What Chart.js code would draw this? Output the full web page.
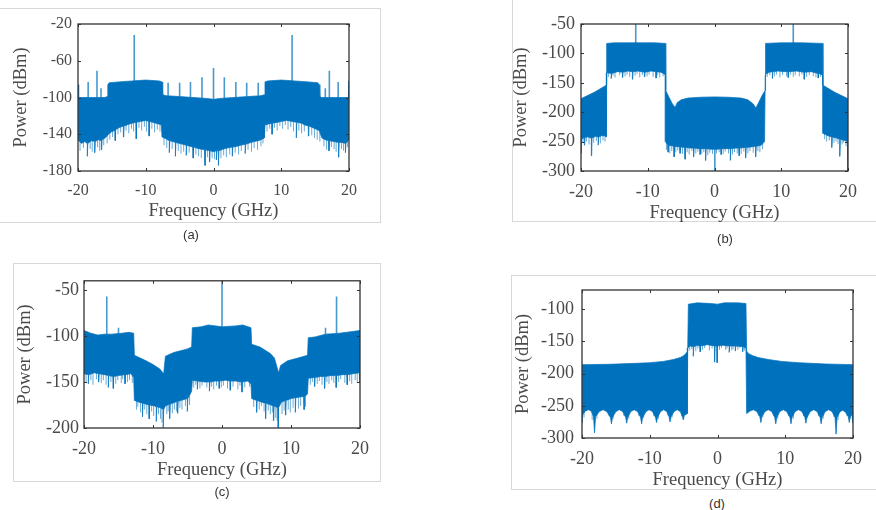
<!DOCTYPE html>
<html>
<head>
<meta charset="utf-8">
<script src="https://cdn.jsdelivr.net/npm/chart.js@4.4.1/dist/chart.umd.min.js"></script>
<style>
  body { margin: 0; width: 876px; height: 510px; position: relative; overflow: hidden; background: #fff; font-family: 'Liberation Sans', Arial, sans-serif; }
  .frame { position: absolute; box-sizing: border-box; border: 0 solid #d8d8d8; }
  canvas { position: absolute; }
  .cap { position: absolute; font-size: 13px; color: #333; transform: translate(-50%, -50%); }
</style>
</head>
<body>
<div class="frame" style="left:0;top:8px;width:381px;height:215px;border-top-width:1px;border-right-width:1px;border-bottom-width:1px"></div>
<div class="frame" style="left:512px;top:-1px;width:370px;height:223px;border-left-width:1px;border-bottom-width:1px"></div>
<div class="frame" style="left:13px;top:263px;width:368px;height:219px;border-width:1px"></div>
<div class="frame" style="left:511px;top:275px;width:370px;height:215px;border-left-width:1px;border-top-width:1px;border-bottom-width:1px"></div>

<canvas id="chartA" width="380" height="228" style="left:0;top:0"></canvas>
<canvas id="chartB" width="376" height="230" style="left:500px;top:0"></canvas>
<canvas id="chartC" width="380" height="220" style="left:0;top:265px"></canvas>
<canvas id="chartD" width="376" height="225" style="left:500px;top:270px"></canvas>

<div class="cap" style="left:191px;top:234px">(a)</div>
<div class="cap" style="left:725px;top:238px">(b)</div>
<div class="cap" style="left:222px;top:491px">(c)</div>
<div class="cap" style="left:717px;top:503px">(d)</div>

<script>
// shared x ticks (GHz)
const freqTicks = [-20, -10, 0, 10, 20];

// (a) envelope of the spectrum: [GHz, dBm]
const aTop = [[-20,-86],[-19.9,-100],[-18,-100],[-16,-100],[-15.7,-99],[-15.6,-86],[-15.4,-84],[-14,-83],[-12,-82],[-10,-81],[-8,-82],[-7.6,-83],[-7.5,-97],[-7,-98],[-5,-99],[-3,-100],[-1,-101],[0,-102],[1,-101],[3,-100],[5,-99],[7,-98],[7.5,-97],[7.6,-83],[8,-82],[10,-81],[12,-82],[14,-83],[15.4,-84],[15.6,-86],[15.7,-99],[16,-100],[18,-100],[19.9,-100],[20,-82]];
const aBottom = [[-20,-146],[-19.5,-150],[-19,-148],[-18.65,-150],[-18.6,-164],[-18.55,-150],[-18,-147],[-17.55,-148],[-17.5,-160],[-17.45,-148],[-17,-146],[-16.55,-147],[-16.5,-157],[-16.45,-146],[-16,-144],[-15.5,-140],[-15,-137],[-14.55,-136],[-14.5,-147],[-14.45,-135],[-14,-133],[-13.3,-131],[-13.25,-143],[-13.2,-131],[-12.5,-129],[-12,-128],[-11.45,-127],[-11.4,-145],[-11.35,-127],[-10.8,-126],[-10,-125],[-9.55,-126],[-9.5,-142],[-9.45,-126],[-9,-127],[-8.5,-128],[-8,-129],[-7.7,-130],[-7.6,-143],[-7,-145],[-6.55,-147],[-6.5,-160],[-6.45,-147],[-6,-148],[-5.65,-149],[-5.6,-164],[-5.55,-149],[-5,-150],[-4.5,-151],[-4.05,-152],[-4,-163],[-3.95,-152],[-3.5,-153],[-3.05,-154],[-3,-166],[-2.95,-154],[-2.5,-155],[-2,-156],[-1.3,-157],[-1.25,-174],[-1.2,-157],[-0.6,-158],[-0.55,-170],[-0.5,-158],[0,-159],[0.4,-158],[0.45,-168],[0.5,-158],[0.7,-158],[0.75,-174],[0.8,-158],[1.5,-156],[2,-155],[2.75,-154],[2.8,-164],[2.85,-154],[3.5,-153],[4,-152],[4.65,-151],[4.7,-161],[4.75,-151],[5.5,-149],[6,-148],[6.6,-147],[7,-146],[7.5,-144],[7.6,-130],[8,-129],[8.6,-128],[8.65,-140],[8.7,-128],[9.5,-127],[10,-126],[10.8,-125],[11.6,-126],[12.2,-127],[12.25,-144],[12.3,-127],[13,-128],[13.5,-130],[14,-131],[14.05,-142],[14.1,-131],[15,-134],[15.6,-136],[16,-144],[16.5,-146],[17,-147],[17.05,-158],[17.1,-147],[17.8,-148],[18.45,-149],[18.5,-165],[18.55,-149],[19,-149],[19.45,-150],[19.5,-160],[19.55,-150],[20,-146]];
// lowest points of the ragged lower edge: [GHz, dBm]
const aDips = [[-19.7,-158],[-19.2,-155],[-18.2,-156],[-17.9,-159],[-17.1,-154],[-16.8,-158],[-16.2,-152],[-15.7,-150],[-15.3,-146],[-14.9,-143],[-14.1,-140],[-13.7,-138],[-12.9,-136],[-12.5,-139],[-12.1,-134],[-11.8,-137],[-11,-133],[-10.6,-136],[-10.2,-132],[-9.9,-137],[-9.1,-134],[-8.7,-138],[-8.3,-135],[-7.9,-137],[-7.3,-152],[-6.9,-155],[-6.1,-156],[-5.2,-158],[-4.8,-161],[-4.4,-159],[-3.6,-160],[-2.6,-162],[-2.2,-164],[-1.8,-166],[-0.9,-165],[-0.2,-166],[0.15,-167],[1.1,-166],[1.5,-163],[1.9,-165],[2.4,-162],[3.2,-160],[3.7,-162],[4.1,-158],[5.1,-157],[5.6,-159],[6,-155],[6.5,-157],[7,-153],[7.3,-150],[7.9,-137],[8.3,-134],[9,-133],[9.4,-136],[9.8,-131],[10.2,-134],[10.6,-130],[11,-135],[11.4,-132],[11.8,-137],[12.6,-136],[13,-139],[13.4,-137],[14.5,-141],[14.9,-144],[15.3,-146],[15.7,-148],[16.3,-153],[16.7,-157],[17.4,-154],[17.8,-156],[18.1,-159],[18.9,-156],[19.2,-158],[19.8,-154]];
// spectral lines: [GHz, from dBm, to dBm]
const aSpikes = [[-18.5,-100,-83],[-17.2,-100,-71],[-16.6,-100,-90],[-11.7,-82,-32],[-6.7,-98,-84],[-5,-99,-84],[-3.4,-100,-83],[-1.7,-101,-78],[0,-102,-68],[1.6,-101,-78],[3.3,-100,-83],[4.9,-99,-84],[6.6,-98,-84],[11.6,-82,-32],[16.5,-100,-90],[17.1,-100,-71],[18.4,-100,-83]];
const aPowerTicks = [-180, -140, -100, -60, -20];

// (b)
const bTop = [[-20,-177],[-18,-166],[-16.2,-154],[-16.15,-83],[-15,-82],[-12,-82],[-9,-82],[-7.35,-83],[-7.3,-163],[-6.8,-175],[-6.3,-186],[-5.9,-192],[-5.6,-184],[-5,-179],[-4,-176],[-2,-174.5],[0,-174],[2,-174.5],[4,-176],[5,-179],[5.8,-186],[6.2,-193],[6.6,-184],[7.2,-170],[7.6,-163],[7.65,-83],[10,-82],[13,-82],[16.2,-83],[16.25,-154],[18,-166],[20,-177]];
const bBottom = [[-20,-270],[-19.9,-246],[-19.5,-243],[-19.45,-256],[-19.4,-243],[-19,-242],[-18.45,-244],[-18.4,-274],[-18.35,-244],[-17.8,-241],[-17.45,-242],[-17.4,-256],[-17.35,-242],[-16.9,-240],[-16.5,-240],[-16.2,-242],[-16.15,-133],[-15.5,-134],[-15.45,-143],[-15.4,-134],[-14.5,-131],[-13.8,-132],[-13.75,-141],[-13.7,-132],[-13,-130],[-12.3,-131],[-12.25,-144],[-12.2,-131],[-11.5,-130],[-10.5,-132],[-10.45,-140],[-10.4,-132],[-9.5,-130],[-8.8,-131],[-8.75,-142],[-8.7,-131],[-8,-132],[-7.4,-136],[-7.35,-250],[-7,-256],[-6.95,-268],[-6.9,-256],[-6.1,-258],[-6.05,-276],[-6,-258],[-5.2,-259],[-5.15,-270],[-5.1,-259],[-4.45,-260],[-4.4,-280],[-4.35,-260],[-3.6,-261],[-3.15,-261],[-3.1,-276],[-3.05,-261],[-2.2,-262],[-2.15,-272],[-2.1,-262],[-1.35,-262],[-1.3,-282],[-1.25,-262],[-0.5,-263],[0.5,-263],[0.95,-262],[1,-272],[1.05,-262],[1.8,-262],[2.35,-262],[2.4,-282],[2.45,-262],[3.2,-261],[3.65,-261],[3.7,-274],[3.75,-261],[4.65,-260],[4.7,-278],[4.75,-260],[5.5,-259],[6.15,-258],[6.2,-276],[6.25,-258],[7,-256],[7.5,-250],[7.6,-136],[8.2,-132],[8.65,-131],[8.7,-143],[8.75,-131],[9.5,-130],[10.5,-131],[11,-131],[11.05,-141],[11.1,-131],[12.3,-130],[13.4,-132],[13.45,-144],[13.5,-132],[14.5,-131],[15.5,-134],[15.55,-142],[15.6,-134],[16.2,-137],[16.25,-236],[17,-240],[17.55,-242],[17.6,-260],[17.65,-242],[18.3,-244],[18.75,-246],[18.8,-275],[18.85,-246],[19.5,-248],[19.9,-250],[20,-300]];
const bDips = [[-19.7,-252],[-19.2,-250],[-18.8,-255],[-18.1,-252],[-17.7,-249],[-17.1,-253],[-16.7,-248],[-16.4,-250],[-15.9,-140],[-15.2,-138],[-14.9,-141],[-14.2,-137],[-13.4,-139],[-13.1,-136],[-12.7,-140],[-11.9,-138],[-11.6,-135],[-11.2,-141],[-10.8,-137],[-10.1,-139],[-9.8,-136],[-9.2,-140],[-8.5,-137],[-8.2,-141],[-7.7,-139],[-7.2,-264],[-6.7,-270],[-6.4,-266],[-5.8,-268],[-5.5,-265],[-4.8,-271],[-4.1,-268],[-3.8,-272],[-3.4,-266],[-2.8,-270],[-2.5,-267],[-1.9,-271],[-1.6,-268],[-1,-273],[-0.7,-269],[-0.3,-271],[0.3,-270],[0.7,-268],[1.3,-271],[1.6,-267],[2.1,-270],[2.7,-272],[3,-268],[3.4,-270],[4,-271],[4.4,-267],[5,-270],[5.3,-266],[5.8,-269],[6.5,-266],[6.8,-268],[7.2,-263],[7.9,-140],[8.3,-137],[9,-139],[9.3,-136],[9.8,-141],[10.2,-137],[10.8,-139],[11.4,-136],[11.8,-140],[12.1,-137],[12.7,-139],[13.1,-136],[13.8,-140],[14.2,-137],[14.8,-139],[15.2,-141],[15.9,-140],[16.5,-246],[16.8,-250],[17.2,-248],[17.9,-252],[18.2,-250],[18.5,-254],[19.1,-255],[19.3,-252],[19.7,-258]];
const bSpikes = [[-11.8,-83,-50],[11.8,-83,-50],[0.05,-262,-300]];
const bPowerTicks = [-300, -250, -200, -150, -100, -50];

// (c)
const cTop = [[-20,-94],[-19,-97],[-18,-99],[-17,-98],[-16,-98],[-14.5,-97],[-13.5,-96],[-12.8,-97],[-12.7,-121],[-11,-127],[-10,-131],[-9,-136],[-8.45,-141],[-8.2,-122],[-7,-118],[-6,-116],[-5,-114],[-4.4,-112],[-4.3,-91],[-3,-90],[-2,-88],[0,-90],[2,-89],[3,-88],[4.2,-91],[4.3,-109],[5.5,-112],[7,-119],[7.6,-124],[8.2,-140],[8.5,-132],[9.5,-127],[11,-124],[12.4,-121],[12.5,-102],[13.5,-101],[15,-98],[17,-97],[19,-95],[20,-94]];
const cBottom = [[-20,-141],[-19.4,-142],[-19.35,-152],[-19.3,-142],[-18.5,-140],[-17.9,-141],[-17.85,-150],[-17.8,-141],[-17,-142],[-16.5,-143],[-16.45,-156],[-16.4,-143],[-15.8,-144],[-15.75,-157],[-15.7,-144],[-15,-143],[-14.1,-142],[-14.05,-152],[-14,-142],[-13.2,-141],[-12.8,-145],[-12.7,-170],[-12,-172],[-11.55,-173],[-11.5,-188],[-11.45,-173],[-10.6,-175],[-10.55,-190],[-10.5,-175],[-9.8,-176],[-9.55,-177],[-9.5,-193],[-9.45,-177],[-8.9,-178],[-8.55,-180],[-8.5,-200],[-8.45,-180],[-8.2,-176],[-7.6,-174],[-7.55,-190],[-7.5,-174],[-6.8,-172],[-6.45,-171],[-6.4,-184],[-6.35,-171],[-5.5,-169],[-5.05,-168],[-5,-182],[-4.95,-168],[-4.4,-160],[-4.3,-148],[-3.6,-149],[-3.55,-158],[-3.5,-149],[-2.5,-150],[-1.85,-150],[-1.8,-160],[-1.75,-150],[-1,-149],[-0.45,-149],[-0.4,-157],[-0.35,-149],[0.5,-148],[1.15,-149],[1.2,-159],[1.25,-149],[2,-149],[2.85,-150],[2.9,-161],[2.95,-150],[3.7,-149],[4.2,-152],[4.3,-168],[5,-170],[5.05,-183],[5.1,-170],[5.8,-172],[6.3,-173],[6.35,-190],[6.4,-173],[7.1,-175],[7.45,-176],[7.5,-192],[7.55,-176],[8.1,-178],[8.15,-200],[8.2,-178],[8.6,-172],[9.2,-170],[9.25,-186],[9.3,-170],[10,-168],[10.6,-167],[10.65,-183],[10.7,-167],[11.5,-166],[11.85,-166],[11.9,-180],[11.95,-166],[12.4,-163],[12.5,-146],[13.4,-145],[13.45,-155],[13.5,-145],[14.3,-144],[14.85,-144],[14.9,-157],[14.95,-144],[15.8,-143],[16.5,-143],[16.55,-156],[16.6,-143],[17.5,-142],[18.1,-142],[18.15,-153],[18.2,-142],[19,-141],[19.9,-140],[20,-150]];
const cDips = [[-19.7,-150],[-19,-148],[-18.7,-153],[-18.2,-147],[-17.5,-151],[-17.2,-148],[-16.8,-153],[-16.1,-150],[-15.4,-152],[-15.1,-148],[-14.6,-151],[-14.4,-147],[-13.7,-150],[-13.4,-148],[-13,-151],[-12.4,-180],[-12.2,-177],[-11.8,-183],[-11.2,-180],[-10.9,-185],[-10.2,-182],[-9.9,-187],[-9.2,-185],[-8.9,-190],[-8.7,-194],[-8,-185],[-7.8,-182],[-7.2,-184],[-6.9,-180],[-6.6,-182],[-6.1,-178],[-5.8,-180],[-5.3,-176],[-4.7,-175],[-4.1,-156],[-3.8,-153],[-3.2,-157],[-2.9,-154],[-2.2,-156],[-1.5,-155],[-1.2,-158],[-0.8,-154],[-0.1,-156],[0.2,-154],[0.8,-157],[1.6,-155],[2.3,-158],[2.6,-154],[3.3,-156],[4,-155],[4.6,-177],[5.4,-180],[5.7,-176],[6.1,-182],[6.7,-181],[7,-185],[7.3,-183],[7.8,-189],[8,-192],[8.7,-185],[9,-181],[9.6,-180],[9.9,-183],[10.3,-178],[11.1,-179],[11.4,-176],[12.1,-177],[12.8,-153],[13.1,-150],[13.8,-152],[14.1,-149],[14.5,-153],[15.2,-150],[15.5,-152],[15.9,-148],[16.2,-151],[16.9,-150],[17.2,-147],[17.8,-151],[18.5,-149],[18.8,-152],[19.3,-148],[19.6,-151]];
const cSpikes = [[-16.7,-98,-57],[-15,-98,-91],[0,-90,-40],[15,-98,-91],[16.6,-97,-57]];
const cPowerTicks = [-200, -150, -100, -50];

// (d)
const dTop = [[-20,-186],[-16,-185.5],[-12,-184],[-10,-183],[-8,-181],[-6.5,-178],[-5.5,-175],[-5,-172],[-4.6,-168],[-4.4,-165],[-4.3,-92],[-3,-90],[-1,-91],[0,-92],[1,-90],[3,-90],[4.2,-91],[4.3,-165],[4.6,-169],[5.2,-172],[6,-175],[7.5,-178],[9.5,-181],[12,-183],[16,-185],[20,-186]];
const dBottom = [[-20,-276],[-19.9,-264],[-19.5,-258],[-19,-256],[-18.6,-259],[-18.3,-267],[-18.15,-292],[-18,-267],[-17.45,-259],[-16.9,-256],[-16.35,-259],[-15.8,-268],[-15.65,-278],[-15.5,-268],[-15,-259],[-14.5,-256],[-14,-259],[-13.55,-268],[-13.4,-277],[-13.25,-268],[-12.8,-259],[-12.3,-256],[-11.8,-259],[-11.35,-268],[-11.2,-278],[-11.05,-268],[-10.55,-259],[-10.1,-256],[-9.6,-259],[-9.15,-268],[-9,-276],[-8.85,-268],[-8.4,-259],[-7.95,-256],[-7.5,-259],[-7.15,-267],[-7,-275],[-6.85,-267],[-6.4,-259],[-5.95,-256],[-5.5,-259],[-5.2,-266],[-5.05,-272],[-4.9,-265],[-4.45,-262],[-4.4,-160],[-4,-157],[-3.6,-158],[-3.55,-173],[-3.5,-158],[-3,-156],[-2.6,-157],[-2.55,-166],[-2.5,-157],[-1.5,-155],[-0.45,-157],[-0.4,-182],[-0.35,-157],[-0.1,-157],[-0.05,-183],[0,-157],[0.8,-156],[1.7,-157],[1.75,-167],[1.8,-157],[2.6,-157],[2.65,-165],[2.7,-157],[3.7,-158],[3.75,-166],[3.8,-158],[4.2,-160],[4.3,-262],[4.8,-258],[5.3,-256],[5.8,-259],[6.25,-267],[6.4,-276],[6.55,-267],[7,-259],[7.5,-256],[8,-259],[8.45,-268],[8.6,-278],[8.75,-268],[9.2,-259],[9.7,-256],[10.2,-259],[10.7,-268],[10.85,-278],[11,-268],[11.45,-259],[11.95,-256],[12.45,-259],[12.9,-268],[13.05,-277],[13.2,-268],[13.7,-259],[14.2,-256],[14.7,-259],[15.15,-268],[15.3,-278],[15.45,-268],[15.9,-259],[16.4,-256],[16.9,-259],[17.35,-268],[17.5,-294],[17.65,-268],[18.1,-259],[18.5,-257],[18.9,-260],[19.3,-267],[19.45,-276],[19.6,-267],[19.9,-263],[20,-276]];
const dDips = [[-19.7,-268],[-18.5,-272],[-17.8,-270],[-16,-266],[-15.4,-270],[-13.8,-266],[-13.1,-270],[-11.6,-266],[-10.9,-269],[-9.4,-266],[-8.7,-270],[-7.3,-265],[-6.7,-268],[-5.3,-266],[-4.1,-164],[-3.8,-162],[-3.2,-165],[-2.9,-161],[-2.2,-163],[-1.9,-160],[-1.2,-164],[-0.8,-161],[0.3,-163],[0.6,-160],[1.2,-163],[1.4,-161],[2.1,-164],[2.3,-162],[3,-163],[3.3,-160],[4,-164],[6.1,-266],[6.7,-268],[8.3,-266],[8.9,-270],[10.5,-266],[11.2,-270],[12.7,-266],[13.3,-269],[14.9,-266],[15.6,-270],[17.2,-268],[17.8,-272],[19.1,-266],[19.7,-270]];
const dSpikes = [];
const dPowerTicks = [-300, -250, -200, -150, -100];

const fillBlue = '#0072bd';
const edgeBlue = 'rgba(0,114,189,0.72)';
const dipBlue = 'rgba(0,114,189,0.6)';
const textGray = '#4a4a4a';
const serif = "'Liberation Serif', 'Times New Roman', serif";

// axes box with inward tick marks, like the original plots
const boxPlugin = {
  id: 'box',
  afterDatasetsDraw(chart) {
    const { ctx, chartArea: a, scales: { x, y } } = chart;
    ctx.save();
    ctx.strokeStyle = '#333';
    ctx.lineWidth = 1.3;
    ctx.strokeRect(a.left, a.top, a.right - a.left, a.bottom - a.top);
    ctx.lineWidth = 1;
    ctx.beginPath();
    x.ticks.forEach(t => {
      const px = Math.round(x.getPixelForValue(t.value)) + 0.5;
      ctx.moveTo(px, a.bottom); ctx.lineTo(px, a.bottom - 3);
      ctx.moveTo(px, a.top); ctx.lineTo(px, a.top + 3);
    });
    y.ticks.forEach(t => {
      const py = Math.round(y.getPixelForValue(t.value)) + 0.5;
      ctx.moveTo(a.left, py); ctx.lineTo(a.left + 3, py);
      ctx.moveTo(a.right, py); ctx.lineTo(a.right - 3, py);
    });
    ctx.stroke();
    ctx.restore();
  }
};

function drawPanel(id, p) {
  const band = [...p.top, ...p.bottom.slice().reverse()].map(([x, y]) => ({ x, y }));
  const lines = p.spikes.flatMap(([x, y0, y1]) => [{ x, y: y0 }, { x, y: y1 }, { x, y: null }]);
  // dips are drawn behind the band, so only the part below it shows
  const dips = p.dips.flatMap(([x, y]) => [{ x, y }, { x, y: y + 30 }, { x, y: null }]);
  new Chart(document.getElementById(id), {
    type: 'line',
    data: {
      datasets: [
        { data: lines, order: 1, borderColor: edgeBlue, borderWidth: 1.6, pointRadius: 0, spanGaps: false, fill: false },
        { data: band, order: 2, borderColor: edgeBlue, backgroundColor: fillBlue, borderWidth: 1, pointRadius: 0, fill: 'shape' },
        { data: dips, order: 3, borderColor: dipBlue, borderWidth: 1, pointRadius: 0, spanGaps: false, fill: false }
      ]
    },
    options: {
      responsive: false,
      animation: false,
      events: [],
      layout: { padding: { top: p.padTop, right: p.padRight, left: 0, bottom: 0 } },
      plugins: { legend: { display: false }, tooltip: { enabled: false } },
      scales: {
        x: {
          type: 'linear', min: -20, max: 20,
          afterBuildTicks: s => { s.ticks = freqTicks.map(v => ({ value: v })); },
          afterFit: s => { s.height = p.xH; },
          grid: { display: false, drawTicks: false },
          border: { display: false },
          ticks: { padding: 10, maxRotation: 0, color: textGray, font: { family: serif, size: p.tickSize } },
          title: { display: true, text: 'Frequency (GHz)', color: textGray, font: { family: serif, size: 18.5, lineHeight: 1.2 }, padding: { top: 0, bottom: p.xTitlePad } }
        },
        y: {
          type: 'linear', min: p.yMin, max: p.yMax,
          afterBuildTicks: s => { s.ticks = p.yTicks.map(v => ({ value: v })); },
          afterFit: s => { s.width = p.yW; },
          grid: { display: false, drawTicks: false },
          border: { display: false },
          ticks: { padding: p.yPad, color: textGray, font: { family: serif, size: p.tickSize } },
          title: { display: true, text: 'Power (dBm)', color: textGray, font: { family: serif, size: 18.5, lineHeight: 1.2 }, padding: { top: p.yTitlePad, bottom: 0 } }
        }
      }
    },
    plugins: [boxPlugin]
  });
}

drawPanel('chartA', { top: aTop, bottom: aBottom, dips: aDips, spikes: aSpikes, yTicks: aPowerTicks, yMin: -180, yMax: -20,
  padTop: 24, padRight: 31, yW: 78, xH: 57, yPad: 6, tickSize: 16, yTitlePad: 9.6, xTitlePad: 5.4 });
drawPanel('chartB', { top: bTop, bottom: bBottom, dips: bDips, spikes: bSpikes, yTicks: bPowerTicks, yMin: -300, yMax: -50,
  padTop: 24, padRight: 28, yW: 81, xH: 59, yPad: 6, tickSize: 18, yTitlePad: 10.4, xTitlePad: 5.9 });
drawPanel('chartC', { top: cTop, bottom: cBottom, dips: cDips, spikes: cSpikes, yTicks: cPowerTicks, yMin: -200, yMax: -40,
  padTop: 14, padRight: 20, yW: 84, xH: 57, yPad: 5, tickSize: 18, yTitlePad: 14.4, xTitlePad: 3.9 });
drawPanel('chartD', { top: dTop, bottom: dBottom, dips: dDips, spikes: dSpikes, yTicks: dPowerTicks, yMin: -300, yMax: -70,
  padTop: 20, padRight: 23, yW: 82, xH: 57, yPad: 8, tickSize: 18, yTitlePad: 12.2, xTitlePad: 3.4 });
</script>
</body>
</html>
